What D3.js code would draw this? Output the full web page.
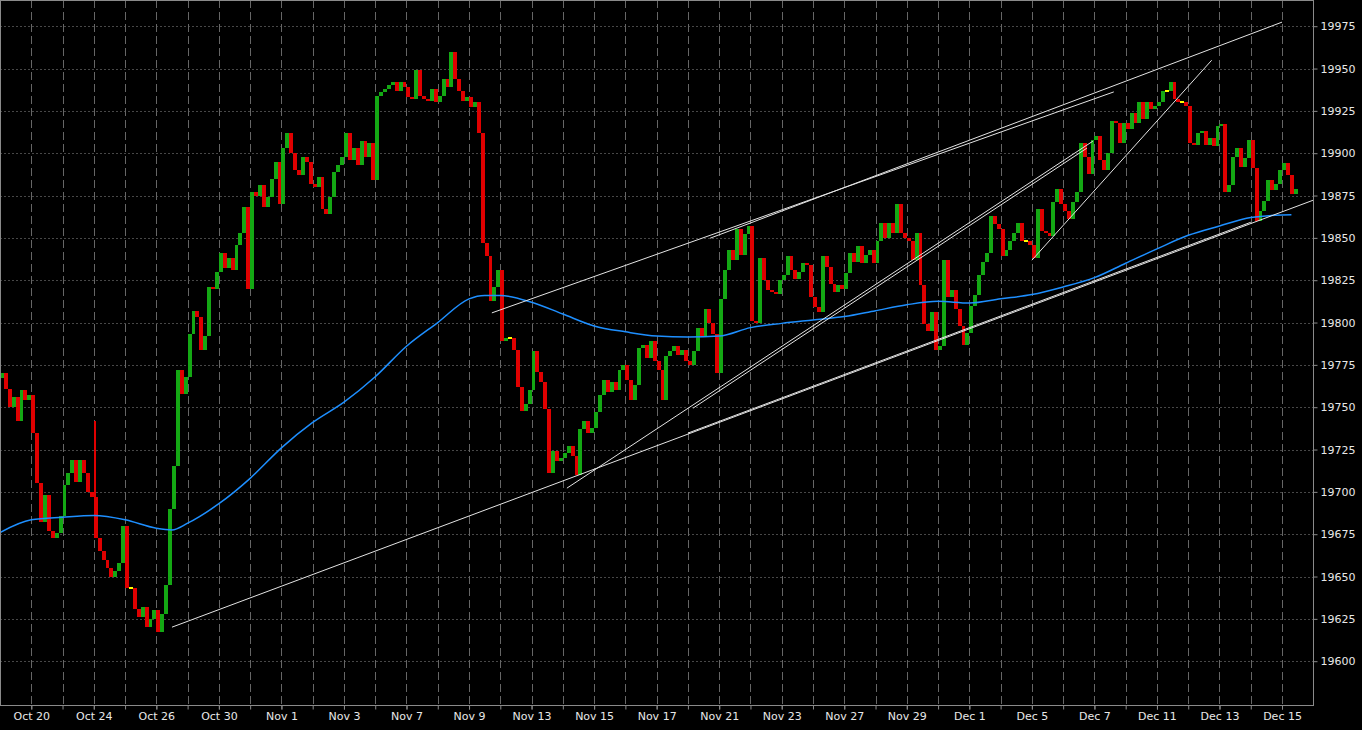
<!DOCTYPE html>
<html>
<head>
<meta charset="utf-8">
<style>
  html, body { margin: 0; padding: 0; background: #000; }
  svg { display: block; }
  .tick text, .lbl { font-family: "DejaVu Sans", sans-serif; font-size: 11px; fill: #e8e8e8; }
</style>
</head>
<body>
<svg id="chart" width="1362" height="730"></svg>
<script src="https://d3js.org/d3.v7.min.js"></script>
<script>
  // candles: 8 per trading day, open = previous close
  const barsPerDay = 8;
  const firstOpen = 19767;
  const closes = [
    19770, 19761, 19750, 19756, 19742, 19760, 19754, 19757,
    19735, 19705, 19682, 19698, 19677, 19673, 19676, 19686,
    19704, 19711, 19719, 19706, 19719, 19711, 19700, 19697,
    19673, 19665, 19660, 19655, 19650, 19653, 19658, 19680,
    19643, 19643, 19631, 19626, 19632, 19620, 19625, 19630,
    19617, 19628, 19645, 19690, 19715, 19772, 19758, 19768,
    19793, 19807, 19803, 19784, 19792, 19821, 19820, 19830,
    19841, 19832, 19838, 19831, 19846, 19853, 19868, 19820,
    19877, 19875, 19881, 19868, 19874, 19885, 19895, 19870,
    19903, 19912, 19900, 19890, 19887, 19898, 19895, 19882,
    19880, 19886, 19867, 19864, 19874, 19889, 19893, 19898,
    19912, 19896, 19903, 19893, 19907, 19898, 19906, 19884,
    19934, 19936, 19938, 19940, 19942, 19937, 19942, 19939,
    19933, 19932, 19949, 19934, 19932, 19931, 19938, 19930,
    19934, 19944, 19939, 19960, 19944, 19937, 19931, 19933,
    19927, 19930, 19912, 19847, 19839, 19813, 19821, 19831,
    19789, 19791, 19791, 19784, 19762, 19748, 19752, 19760,
    19783, 19771, 19765, 19749, 19711, 19724, 19718, 19720,
    19723, 19727, 19721, 19710, 19737, 19742, 19735, 19738,
    19747, 19757, 19766, 19759, 19765, 19760, 19772, 19775,
    19766, 19754, 19763, 19785, 19787, 19779, 19789, 19777,
    19772, 19754, 19780, 19783, 19786, 19781, 19784, 19777,
    19775, 19783, 19797, 19792, 19808, 19800, 19793, 19770,
    19814, 19831, 19843, 19837, 19855, 19840, 19852, 19857,
    19801, 19800, 19838, 19825, 19819, 19818, 19817, 19825,
    19828, 19839, 19831, 19826, 19830, 19835, 19834, 19815,
    19809, 19806, 19839, 19833, 19823, 19818, 19822, 19820,
    19829, 19841, 19836, 19845, 19835, 19840, 19843, 19835,
    19848, 19859, 19850, 19859, 19853, 19870, 19853, 19850,
    19848, 19837, 19853, 19822, 19799, 19795, 19806, 19784,
    19786, 19837, 19815, 19819, 19808, 19798, 19787, 19794,
    19810, 19816, 19828, 19836, 19841, 19863, 19858, 19855,
    19839, 19843, 19848, 19853, 19859, 19848, 19848, 19846,
    19838, 19867, 19854, 19853, 19851, 19871, 19879, 19870,
    19866, 19861, 19871, 19877, 19906, 19898, 19888, 19908,
    19910, 19896, 19890, 19900, 19919, 19918, 19906, 19918,
    19914, 19924, 19918, 19930, 19920, 19930, 19926, 19928,
    19930, 19937, 19937, 19942, 19932, 19930, 19930, 19928,
    19906, 19905, 19912, 19913, 19905, 19909, 19904, 19916,
    19917, 19877, 19881, 19898, 19903, 19892, 19897, 19908,
    19891, 19860, 19866, 19872, 19884, 19878, 19882, 19890,
    19894, 19887, 19876, 19879
  ];
  // bars whose high pokes well above the body
  const spikeBars = [24];
  const spikeHighs = [19742];

  // moving average, read at day positions
  const maDays = [0, 1, 2, 3, 4, 5, 5.5, 6, 7, 8, 9, 10, 11, 12, 13, 14, 15, 15.5, 16, 17, 18, 19, 20, 21,
    22, 23, 24, 25, 26, 27, 28, 29, 30, 31, 32, 33, 34, 35, 36, 37, 38, 39, 40, 41, 41.3];
  const maValues = [19676, 19683.5, 19685, 19686, 19683.5, 19678.5, 19677.5, 19681.5, 19693, 19708, 19726,
    19741, 19753, 19768, 19786, 19800, 19814, 19816, 19816, 19812, 19805, 19798, 19794.5, 19792, 19791.5,
    19792, 19797, 19799.5, 19801.5, 19803.5, 19807, 19810.5, 19812.5, 19811.5, 19814, 19816.5, 19821,
    19826.5, 19835, 19843.5, 19851.5, 19857, 19862, 19863.5, 19863.6];

  // hand drawn trend lines (day, price)
  const trendStartDay = [5.50, 22.0, 15.73, 22.71, 18.13, 22.16, 33.0];
  const trendStartVal = [19620.1, 19734.7, 19805.7, 19849.8, 19702.2, 19749.4, 19836.8];
  const trendEndDay = [41.99, 40.0, 35.62, 41.0, 34.95, 34.76, 38.75];
  const trendEndVal = [19872.2, 19859.2, 19936.2, 19977.4, 19907.1, 19903.0, 19954.9];

  const labelDays = [1, 3, 5, 7, 9, 11, 13, 15, 17, 19, 21, 23, 25, 27, 29, 31, 33, 35, 37, 39, 41];
  const dateLabels = ['Oct 20', 'Oct 24', 'Oct 26', 'Oct 30', 'Nov 1', 'Nov 3', 'Nov 7', 'Nov 9',
    'Nov 13', 'Nov 15', 'Nov 17', 'Nov 21', 'Nov 23', 'Nov 27', 'Nov 29', 'Dec 1', 'Dec 5', 'Dec 7',
    'Dec 11', 'Dec 13', 'Dec 15'];
  const priceTicks = [19600, 19625, 19650, 19675, 19700, 19725, 19750, 19775, 19800,
    19825, 19850, 19875, 19900, 19925, 19950, 19975];

  const plotW = 1313;
  const plotH = 705;

  const svg = d3.select('#chart');

  const x = d3.scaleLinear().domain([0, 42]).range([0, 1313.3]);
  const y = d3.scaleLinear().domain([19600, 19975]).range([661.2, 26.2]);

  svg.append('rect').attr('width', 1362).attr('height', 730).attr('fill', '#000');

  svg.append('clipPath').attr('id', 'plot-clip')
    .append('rect').attr('x', 0).attr('y', 0).attr('width', plotW).attr('height', plotH);

  // grid
  const grid = svg.append('g').attr('clip-path', 'url(#plot-clip)');
  grid.selectAll('line.h').data(priceTicks).join('line')
    .attr('class', 'h')
    .attr('x1', 0).attr('x2', plotW)
    .attr('y1', d => Math.round(y(d)) + 0.5).attr('y2', d => Math.round(y(d)) + 0.5)
    .attr('stroke', '#474747').attr('stroke-dasharray', '2,2');
  grid.selectAll('line.v').data(d3.range(1, 42)).join('line')
    .attr('class', 'v')
    .attr('x1', d => Math.round(x(d)) + 0.5).attr('x2', d => Math.round(x(d)) + 0.5)
    .attr('y1', 0).attr('y2', plotH)
    .attr('stroke', '#666').attr('stroke-dasharray', '8,4');

  // candles
  const candles = closes.map((c, i) => ({ i, open: i ? closes[i - 1] : firstOpen, close: c }));
  const colour = d => d.close > d.open ? '#14a814' : d.close < d.open ? '#e00000' : '#ffff00';
  const plot = svg.append('g').attr('clip-path', 'url(#plot-clip)');
  const barX = i => Math.round(x(i / barsPerDay));
  const barW = i => barX(i + 1) - barX(i);

  plot.selectAll('rect.bar').data(candles).join('rect')
    .attr('class', 'bar')
    .attr('shape-rendering', 'crispEdges')
    .attr('x', d => barX(d.i))
    .attr('width', d => barW(d.i))
    .attr('y', d => {
      const top = y(Math.max(d.open, d.close));
      return d.open === d.close ? top - 1 : top;
    })
    .attr('height', d => Math.max(2, Math.abs(y(d.open) - y(d.close))))
    .attr('fill', colour);

  // upper shadows on the few bars that have them
  plot.selectAll('rect.spike').data(spikeBars).join('rect')
    .attr('class', 'spike')
    .attr('shape-rendering', 'crispEdges')
    .attr('x', d => barX(d))
    .attr('width', 2)
    .attr('y', (d, i) => y(spikeHighs[i]))
    .attr('height', (d, i) => y(Math.max(candles[d].open, candles[d].close)) - y(spikeHighs[i]))
    .attr('fill', d => colour(candles[d]));

  // moving average
  const maLine = d3.line()
    .x((d, i) => x(maDays[i]))
    .y(d => y(d))
    .curve(d3.curveMonotoneX);
  plot.append('path')
    .datum(maValues)
    .attr('fill', 'none')
    .attr('stroke', '#1e8fff')
    .attr('stroke-width', 1.5)
    .attr('d', maLine);

  // trend lines
  plot.selectAll('line.trend').data(trendStartDay).join('line')
    .attr('class', 'trend')
    .attr('x1', (d, i) => x(trendStartDay[i]))
    .attr('y1', (d, i) => y(trendStartVal[i]))
    .attr('x2', (d, i) => x(trendEndDay[i]))
    .attr('y2', (d, i) => y(trendEndVal[i]))
    .attr('stroke', '#e4e4e4')
    .attr('stroke-width', 1);

  // frame
  svg.append('rect')
    .attr('x', 0.5).attr('y', 0.5)
    .attr('width', plotW).attr('height', plotH)
    .attr('fill', 'none').attr('stroke', '#8a8a8a');

  // right price axis
  const yAxis = d3.axisRight(y).tickValues(priceTicks).tickSize(4).tickPadding(3).tickFormat(d3.format('d'));
  const ya = svg.append('g').attr('transform', `translate(${plotW + 0.5},0)`).call(yAxis);
  ya.select('.domain').remove();
  ya.selectAll('.tick line').attr('stroke', '#8a8a8a');

  // bottom date axis: a tick every day, labels every second day
  const xTicks = svg.append('g').attr('transform', `translate(0,${plotH + 0.5})`)
    .call(d3.axisBottom(x).tickValues(d3.range(1, 42)).tickSize(4).tickFormat(''));
  xTicks.select('.domain').remove();
  xTicks.selectAll('.tick line').attr('stroke', '#8a8a8a');

  const xAxis = d3.axisBottom(x).tickValues(labelDays).tickSize(4).tickPadding(3)
    .tickFormat((d, i) => dateLabels[i]);
  const xa = svg.append('g').attr('transform', `translate(0,${plotH + 0.5})`).call(xAxis);
  xa.select('.domain').remove();
  xa.selectAll('.tick line').attr('stroke', '#8a8a8a');
</script>
</body>
</html>
